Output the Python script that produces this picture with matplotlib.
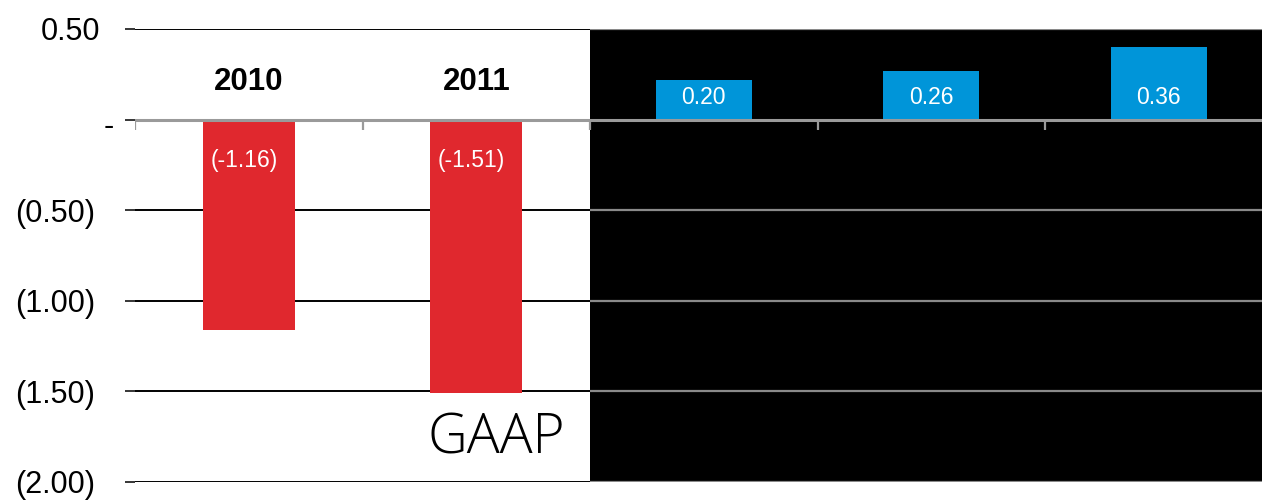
import matplotlib
matplotlib.use("Agg")
import matplotlib.pyplot as plt
from matplotlib.transforms import ScaledTranslation

# data
years = ["2010", "2011"]
gaap_eps = [-1.16, -1.51]
adj_eps = [0.20, 0.26, 0.36]            # label values of the blue bars
adj_bar_heights = [0.22, 0.27, 0.40]    # blue bars as drawn (inset has its own scale)
ytick_values = [0.5, 0.0, -0.5, -1.0, -1.5, -2.0]
ytick_labels = ["0.50", "-", "(0.50)", "(1.00)", "(1.50)", "(2.00)"]

RED = "#e0282e"
BLUE = "#0095d9"

# no narrow Helvetica available, Liberation Sans sized to the widths instead
plt.rcParams["font.family"] = ["Liberation Sans", "DejaVu Sans"]

fig = plt.figure(figsize=(12.62, 5.04), dpi=100)
fig.patch.set_facecolor("white")
W, H = 1262, 504
ax = fig.add_axes([135 / W, 22 / H, 1137.5 / W, 453 / H])
ax.set_xlim(-0.5, 4.5)
ax.set_ylim(-2.0, 0.5)
for s in ax.spines.values():
    s.set_visible(False)
ax.set_facecolor("none")

# black panel on the right
ax.axvspan(1.5, 4.5, color="black", zorder=0.5, lw=0)

# gridlines: black over white part, gray over the black panel
for y in ytick_values:
    if y == 0:
        continue
    ax.hlines(y, -0.5, 1.5, color="black", lw=1.4, zorder=1)
    ax.hlines(y, 1.5, 4.5, color="#8a8a8a", lw=1.6, zorder=1)

# bars
gaap_x = list(range(len(gaap_eps)))
adj_x = [len(gaap_eps) + i for i in range(len(adj_eps))]
ax.bar(gaap_x, gaap_eps, width=0.405, color=RED, zorder=2)
ax.bar(adj_x, adj_bar_heights, width=0.42, color=BLUE, zorder=2)

# zero line and category ticks
ax.axhline(0, color="#9a9a9a", lw=2.2, zorder=3)
for b in [-0.5, 0.5, 1.5, 2.5, 3.5]:
    ax.plot([b, b], [0, -0.055], color="#9a9a9a", lw=1.6, zorder=3,
            solid_capstyle="butt")

# labels
for x, yr, v in zip(gaap_x, years, gaap_eps):
    ax.text(x, 0.205, yr, ha="center", va="center", fontsize=22.5,
            fontweight="bold", color="black", zorder=4)
    ax.text(x - 0.02, -0.225, f"({v:.2f})", ha="center", va="center",
            fontsize=16.5, color="white", zorder=4)
for x, v in zip(adj_x, adj_eps):
    ax.text(x, 0.12, f"{v:.2f}", ha="center", va="center", fontsize=16.5,
            color="white", zorder=4)

ax.text(1.09, -1.76, "GAAP", ha="center", va="center", fontsize=39.5,
        family=["Open Sans", "DejaVu Sans"], fontweight="light", color="black",
        zorder=4)

# y axis
ax.set_xticks([])
ax.set_yticks(ytick_values)
ax.set_yticklabels(ytick_labels, fontsize=22)
ax.tick_params(axis="y", length=7.2, width=1.1, color="black", pad=21.5)
shifts = {"0.50": (5, 0), "-": (19, -4)}
for lab in ax.get_yticklabels():
    dx, dy = shifts.get(lab.get_text(), (0, 0))
    if dx or dy:
        lab.set_transform(lab.get_transform()
                          + ScaledTranslation(dx / 100, dy / 100, fig.dpi_scale_trans))

fig.savefig("out.png", dpi=100, facecolor="white")
